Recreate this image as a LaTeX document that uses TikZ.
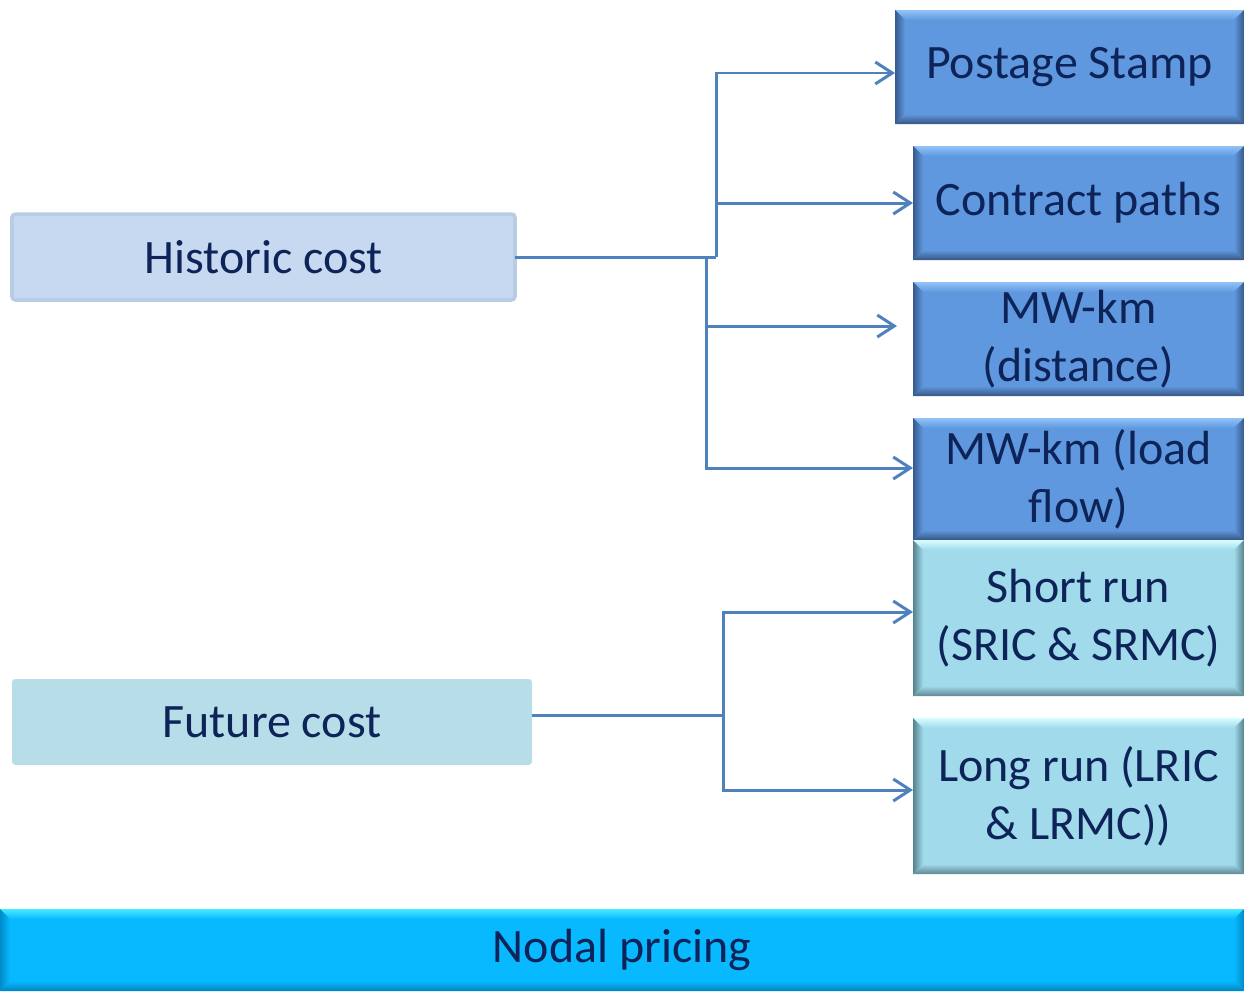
\documentclass[tikz,border=0pt]{standalone}
\usepackage{fontspec}
\setmainfont{Carlito}
\usepackage{tikz}
\usetikzlibrary{arrows.meta, positioning, shadings}

\definecolor{textnavy}{RGB}{14,36,88}
\definecolor{linkblue}{RGB}{79,129,189}
\definecolor{histfill}{RGB}{198,217,240}
\definecolor{histline}{RGB}{184,204,228}
\definecolor{futfill}{RGB}{183,222,232}
\definecolor{blueface}{RGB}{95,152,222}
\definecolor{bluetop}{RGB}{145,195,248}
\definecolor{blueside}{RGB}{55,90,140}
\definecolor{bluebottom}{RGB}{55,85,130}
\definecolor{cyanface}{RGB}{160,218,235}
\definecolor{cyantop}{RGB}{215,253,255}
\definecolor{cyanside}{RGB}{85,130,140}
\definecolor{cyanbottom}{RGB}{95,135,145}
\definecolor{nodalface}{RGB}{8,185,255}
\definecolor{nodaltop}{RGB}{70,235,255}
\definecolor{nodalside}{RGB}{0,140,200}
\definecolor{nodalbottom}{RGB}{0,130,190}

\newcommand{\bevelw}{0.2cm}

% Rahmen mit Fase: Flaeche, oben, Seiten, unten
\tikzset{bevel/.style n args={4}{fill=#1, path picture={
  \coordinate (bnw) at (path picture bounding box.north west);
  \coordinate (bne) at (path picture bounding box.north east);
  \coordinate (bsw) at (path picture bounding box.south west);
  \coordinate (bse) at (path picture bounding box.south east);
  \shade[top color=#2, bottom color=#1] (bnw) -- (bne) -- ([shift={(-\bevelw,-\bevelw)}]bne) -- ([shift={(\bevelw,-\bevelw)}]bnw) -- cycle;
  \shade[left color=#3, right color=#1] (bnw) -- ([shift={(\bevelw,-\bevelw)}]bnw) -- ([shift={(\bevelw,\bevelw)}]bsw) -- (bsw) -- cycle;
  \shade[right color=#3, left color=#1] (bne) -- ([shift={(-\bevelw,-\bevelw)}]bne) -- ([shift={(-\bevelw,\bevelw)}]bse) -- (bse) -- cycle;
  \shade[bottom color=#4, top color=#1] (bsw) -- (bse) -- ([shift={(-\bevelw,\bevelw)}]bse) -- ([shift={(\bevelw,\bevelw)}]bsw) -- cycle;
}}}

\tikzstyle{cost_node} = [rectangle, rounded corners=2pt, minimum height=1.72cm, text centered, align=center, font=\fontsize{27.3}{33}\selectfont, text=textnavy, inner sep=0pt, outer sep=0pt]
\tikzstyle{method_node} = [rectangle, minimum width=6.62cm, text centered, align=center, font=\fontsize{27.3}{33}\selectfont, text=textnavy, inner sep=0pt, outer sep=0pt]
\tikzstyle{blue_method} = [method_node, bevel={blueface}{bluetop}{blueside}{bluebottom}]
\tikzstyle{cyan_method} = [method_node, bevel={cyanface}{cyantop}{cyanside}{cyanbottom}]
\tikzstyle{link_line} = [linkblue, line width=1.7pt]
\tikzstyle{link_arrow} = [link_line, -{Straight Barb[length=3.4mm, width=4.4mm]}]

\begin{document}
\begin{tikzpicture}
\useasboundingbox (0,0) rectangle (24.88,-19.82);

\node (postage) [blue_method, minimum width=6.98cm, minimum height=2.28cm, anchor=north east] at (24.88,-0.2) {Postage Stamp};
\node (contract) [blue_method, minimum height=2.28cm, below=0.44cm of postage.south east, anchor=north east] {Contract paths};
\node (mwdist) [blue_method, minimum height=2.28cm, below=0.44cm of contract] {MW-km\\(distance)};
\node (mwflow) [blue_method, minimum height=2.44cm, below=0.44cm of mwdist] {MW-km (load\\flow)};
\node (shortrun) [cyan_method, minimum height=3.12cm, below=0cm of mwflow] {Short run\\(SRIC \& SRMC)};
\node (longrun) [cyan_method, minimum height=3.12cm, below=0.44cm of shortrun] {Long run (LRIC\\\& LRMC))};

\node (historic) [cost_node, fill=histfill, draw=histline, line width=2pt, minimum width=10.06cm, anchor=north west] at (0.24,-4.28) {Historic cost};
\node (future) [cost_node, fill=futfill, minimum width=10.4cm, anchor=north west] at (0.24,-13.58) {Future cost};

\node (nodal) [method_node, bevel={nodalface}{nodaltop}{nodalside}{nodalbottom}, minimum width=24.88cm, minimum height=1.64cm, anchor=south west] at (0,-19.82) {Nodal pricing};

% Verbindungen von den Kostenarten zu den Verfahren
\coordinate (hup) at (14.32,-5.14);
\coordinate (hdown) at (14.12,-5.14);
\draw [link_line] (historic.east) -- (hup);
\draw [link_arrow] (hup) |- ([yshift=-0.12cm]postage.west);
\draw [link_arrow] (hup) |- (contract.west);
\draw [link_arrow, shorten >=0.32cm] (hdown) |- ([yshift=0.26cm]mwdist.west);
\draw [link_arrow] (hdown) |- ([yshift=0.22cm]mwflow.west);

\coordinate (fjoin) at (14.46,-14.30);
\draw [link_line] ([yshift=0.14cm]future.east) -- (fjoin);
\draw [link_arrow] (fjoin) |- ([yshift=0.12cm]shortrun.west);
\draw [link_arrow] (fjoin) |- ([yshift=0.12cm]longrun.west);
\end{tikzpicture}
\end{document}
